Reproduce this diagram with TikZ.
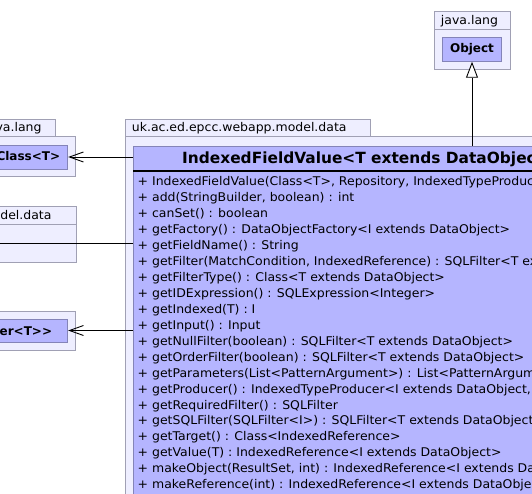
\documentclass[tikz,border=0pt]{standalone}
\usepackage{fontspec}
\setmainfont{DejaVu Sans}
\newfontfamily\umlfont{DejaVu Sans}[FakeStretch=1.04]
\usetikzlibrary{arrows.meta, positioning, fit}
\definecolor{pkgfill}{HTML}{EEEEFF}
\definecolor{pkgline}{HTML}{A0A0B4}
\definecolor{clsfill}{HTML}{B5B5FF}
\definecolor{clsline}{HTML}{8484B8}

\tikzset{
  pkgbox/.style={draw=pkgline, fill=pkgfill, line width=0.9pt},
  clsbox/.style={draw=clsline, fill=clsfill, line width=0.9pt, inner sep=0pt},
  pkglabel/.style={font=\umlfont\fontsize{12}{14}\selectfont, inner sep=0pt},
  clsname/.style={font=\bfseries\fontsize{12}{14}\selectfont, inner sep=0pt},
  member/.style={font=\umlfont\fontsize{12}{14}\selectfont, inner sep=0pt, anchor=base west},
  usage/.style={-{Straight Barb[length=14pt,width=10pt,line width=0.9pt]}, line width=0.9pt},
  extends/.style={-{Triangle[open,length=16pt,width=12pt,fill=white,line width=0.9pt]}, line width=0.9pt},
}

\begin{document}
\begin{tikzpicture}[x=1pt, y=-1pt]
  \useasboundingbox (0,0) rectangle (532,494);
  \clip (0,0) rectangle (532,494);
  \fill[white] (0,0) rectangle (532,494);

  % packages
  \draw[pkgbox] (-10,119.3) rectangle (55.3,136);
  \draw[pkgbox] (-10,136) rectangle (75.7,176);
  \node[pkglabel, anchor=base east] (langleft) at (41.7,132) {va.lang};

  \draw[pkgbox] (-10,206.3) rectangle (76.3,224);
  \draw[pkgbox] (-10,224) rectangle (76.3,262.7);
  \node[pkglabel, anchor=base east] (dataleft) at (51.7,220) {del.data};

  \draw[pkgbox] (-10,311) rectangle (75.7,350);

  \draw[pkgbox] (125,119.3) rectangle (370.7,136);
  \draw[pkgbox] (125,136) rectangle (620,620);
  \node[pkglabel, anchor=base west] (datapkg) at (131.7,132) {uk.ac.ed.epcc.webapp.model.data};

  \draw[pkgbox] (434,11.7) rectangle (510,29.3);
  \draw[pkgbox] (434,29.3) rectangle (510,69.3);
  \node[pkglabel, anchor=base west] (langpkg) at (440.7,24.5) {java.lang};

  % classes
  \node[clsbox, fit={(-10,145) (67.7,169)}] (cls) {};
  \node[clsname, anchor=base east] at (60.3,161) {Class<T>};

  \node[clsbox, fit={(-10,319) (67.7,342)}] (prod) {};
  \node[clsname, anchor=base east] at (52.3,335) {er<T>{}>};

  \node[clsbox, fit={(442.3,37.3) (501.7,61.3)}] (obj) {};
  \node[clsname, anchor=base] at (obj.center |- 0,53) {Object};

  \node[clsbox, fit={(133.3,146) (620,620)}] (ifv) {};
  \node[font=\bfseries\fontsize{15.4}{18}\selectfont, inner sep=0pt, anchor=base west]
    (ifvname) at (182,164) {IndexedFieldValue<T extends DataObjec};
  \draw[line width=2pt] (133.3,171) -- (620,171);

  \foreach \txt [count=\i from 0] in {
    {+ IndexedFieldValue(Class<T>, Repository, IndexedTypeProduc},
    {+ add(StringBuilder, boolean) : int},
    {+ canSet() : boolean},
    {+ getFactory() : DataObjectFactory<I extends DataObject>},
    {+ getFieldName() : String},
    {+ getFilter(MatchCondition, IndexedReference) : SQLFilter<T ex},
    {+ getFilterType() : Class<T extends DataObject>},
    {+ getIDExpression() : SQLExpression<Integer>},
    {+ getIndexed(T) : I},
    {+ getInput() : Input},
    {+ getNullFilter(boolean) : SQLFilter<T extends DataObject>},
    {+ getOrderFilter(boolean) : SQLFilter<T extends DataObject>},
    {+ getParameters(List<PatternArgument>) : List<PatternArgum},
    {+ getProducer() : IndexedTypeProducer<I extends DataObject,},
    {+ getRequiredFilter() : SQLFilter},
    {+ getSQLFilter(SQLFilter<I>) : SQLFilter<T extends DataObject>},
    {+ getTarget() : Class<IndexedReference>},
    {+ getValue(T) : IndexedReference<I extends DataObject>},
    {+ makeObject(ResultSet, int) : IndexedReference<I extends Da},
    {+ makeReference(int) : IndexedReference<I extends DataObje}}
    \node[member] (m\i) at (137.5,{186+15.93*\i}) {\txt};

  % connectors
  \coordinate (assoc) at (-10,243.3);
  \draw[usage] (ifv.west |- cls.east) -- (cls.east);
  \draw[usage] (ifv.west |- prod.east) -- (prod.east);
  \draw[line width=0.9pt] (ifv.west |- assoc) -- (assoc);
  \draw[extends] (ifv.north -| obj.south) -- (obj.south);
\end{tikzpicture}
\end{document}
